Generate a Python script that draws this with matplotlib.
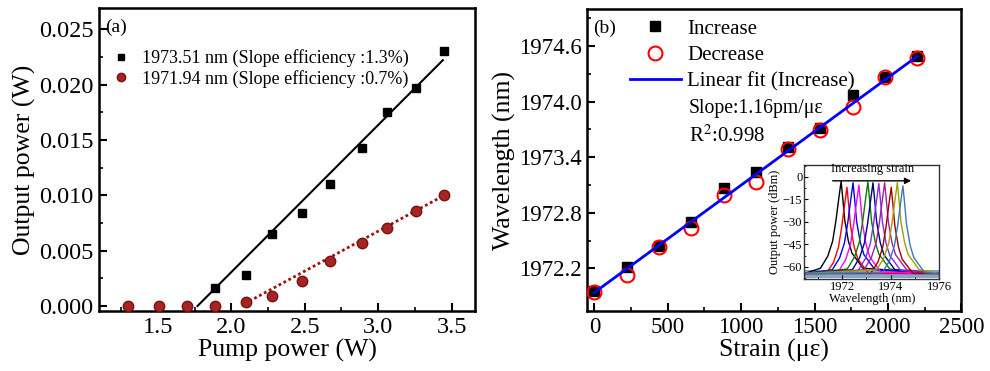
import numpy as np
import matplotlib
matplotlib.use("Agg")
import matplotlib.pyplot as plt
from matplotlib.ticker import MultipleLocator, AutoMinorLocator

plt.rcParams['font.family'] = ['Liberation Serif', 'DejaVu Serif']
plt.rcParams['mathtext.fontset'] = 'stix'

# ---------------- data (a) ----------------
pump_sq = [1.89, 2.10, 2.28, 2.48, 2.67, 2.89, 3.06, 3.26, 3.45]
out_sq = [0.0016, 0.0028, 0.0065, 0.0084, 0.0110, 0.0143, 0.0175, 0.0197, 0.0230]
pump_ci = [1.30, 1.51, 1.70, 1.89, 2.10, 2.28, 2.48, 2.67, 2.89, 3.06, 3.26, 3.45]
out_ci = [0.0, 0.0, 0.0, 0.0, 0.0004, 0.0009, 0.0023, 0.0041, 0.0057, 0.0070, 0.0086, 0.0100]
fit_sq_x = [1.77, 3.44]
fit_sq_y = [0.0, 0.0222]
fit_ci_x = [2.09, 3.45]
fit_ci_y = [0.0002, 0.0100]
label_sq = "1973.51 nm (Slope efficiency :1.3%)"
label_ci = "1971.94 nm (Slope efficiency :0.7%)"

# ---------------- data (b) ----------------
strain = [0, 220, 440, 660, 880, 1100, 1320, 1540, 1760, 1980, 2200]
wl_inc = [1971.96, 1972.21, 1972.44, 1972.70, 1973.07, 1973.24, 1973.51, 1973.72, 1974.07, 1974.27, 1974.49]
wl_dec = [1971.95, 1972.13, 1972.43, 1972.64, 1972.99, 1973.13, 1973.49, 1973.69, 1973.94, 1974.27, 1974.47]
fit_strain = [0, 2200]
fit_wl = [1971.94, 1974.49]

# inset spectra: peak centres (nm), peak levels (dBm), colours
peak_wl = [1971.96, 1972.20, 1972.45, 1972.69, 1973.06, 1973.27, 1973.51, 1973.75, 1974.02, 1974.27, 1974.50]
peak_db = [-3, -7, -4, -5.5, -3.5, -4, -4.5, -4, -7, -4, -6]
spec_colors = ['black', 'red', 'blue', 'magenta', 'green', 'navy', '#8A2BE2', '#A020A0',
               '#A00000', '#A0A000', '#3C78B4']
# common line shape (offset from peak in nm, level below peak in dB)
shape_dx = [-0.85, -0.55, -0.35, -0.22, -0.10, 0.0, 0.06, 0.15, 0.30, 0.45, 0.90]
shape_db = [-58, -50, -40, -27, -12, 0, -10, -26, -40, -48, -58]
floor_db = -64.5

fig = plt.figure(figsize=(9.9, 3.71), dpi=100)

# ================= panel (a) =================
ax1 = fig.add_axes([0.100, 0.1617, 0.380, 0.8165])
ax1.plot(fit_sq_x, fit_sq_y, color='black', lw=1.5, zorder=2)
ax1.plot(fit_ci_x, fit_ci_y, color='#A01010', lw=2.0, ls=(0, (1, 1)), zorder=2)
ax1.plot(pump_sq, out_sq, ls='none', marker='s', ms=6, color='black', label=label_sq, zorder=3)
ax1.plot(pump_ci, out_ci, ls='none', marker='o', ms=7.5, mfc='#A52424', mec='#7A1010',
         mew=1.0, label=label_ci, zorder=3)
ax1.set_xlim(1.1, 3.66)
ax1.set_ylim(-0.00045, 0.0269)
ax1.xaxis.set_minor_locator(MultipleLocator(0.25))
ax1.yaxis.set_minor_locator(MultipleLocator(0.0025))
ax1.set_xticks([1.5, 2.0, 2.5, 3.0, 3.5])
ax1.set_xticklabels(['1.5', '2.0', '2.5', '3.0', '3.5'])
ax1.set_yticks([0.0, 0.005, 0.010, 0.015, 0.020, 0.025])
ax1.set_yticklabels(['0.000', '0.005', '0.010', '0.015', '0.020', '0.025'])
ax1.set_xlabel('Pump power (W)', fontsize=18.5, labelpad=1)
ax1.set_ylabel('Output power (W)', fontsize=18.5, labelpad=2)
ax1.text(0.015, 0.935, '(a)', transform=ax1.transAxes, fontsize=14, va='center', ha='left')
leg1 = ax1.legend(loc='upper left', bbox_to_anchor=(0.0, 0.90), frameon=False, fontsize=13,
                  handletextpad=0.6, handlelength=1.2, borderaxespad=0.2, labelspacing=0.15,
                  markerscale=0.8)

# ================= panel (b) =================
ax2 = fig.add_axes([0.593, 0.1617, 0.378, 0.8140])
ax2.plot(strain, wl_inc, ls='none', marker='s', ms=7, color='black', label='Increase', zorder=3)
ax2.plot(strain, wl_dec, ls='none', marker='o', ms=10, mfc='none', mec='red', mew=1.5,
         label='Decrease', zorder=4)
ax2.plot(fit_strain, fit_wl, color='blue', lw=2.0, label='Linear fit (Increase)', zorder=5)
ax2.set_xlim(-50, 2500)
ax2.set_ylim(1971.74, 1975.0)
ax2.xaxis.set_major_locator(MultipleLocator(500))
ax2.xaxis.set_minor_locator(MultipleLocator(250))
ax2.set_yticks([1972.2, 1972.8, 1973.4, 1974.0, 1974.6])
ax2.set_yticklabels(['1972.2', '1972.8', '1973.4', '1974.0', '1974.6'])
ax2.yaxis.set_minor_locator(MultipleLocator(0.3))
ax2.set_xlabel('Strain (\u03bc\u03b5)', fontsize=18.5, labelpad=1)
ax2.set_ylabel('Wavelength (nm)', fontsize=18.5, labelpad=2)
ax2.text(0.015, 0.935, '(b)', transform=ax2.transAxes, fontsize=14, va='center', ha='left')
leg2 = ax2.legend(loc='upper left', bbox_to_anchor=(0.081, 1.008), frameon=False, fontsize=15,
                  handletextpad=0.3, handlelength=2.45, borderaxespad=0.2, labelspacing=0.33)
ax2.text(0.272, 0.672, 'Slope:1.16pm/\u03bc\u03b5', transform=ax2.transAxes, fontsize=14.2,
         va='center', ha='left')
ax2.text(0.272, 0.580, 'R$^{2}$:0.998', transform=ax2.transAxes, fontsize=15,
         va='center', ha='left')

ax1.tick_params(which='both', labelsize=17.5)
ax2.tick_params(which='both', labelsize=16.5)
for ax in (ax1, ax2):
    ax.tick_params(which='both', direction='in', top=False, right=False)
    ax.tick_params(which='major', length=6, width=1.5, pad=4)
    ax.tick_params(which='minor', length=3, width=1.2)
    for s in ax.spines.values():
        s.set_linewidth(1.8)

# ================= inset =================
axi = fig.add_axes([0.8125, 0.247, 0.1364, 0.308])
xlo, xhi = 1970.45, 1976.0
for c, h, col in zip(peak_wl, peak_db, spec_colors):
    xs = [xlo] + [c + d for d in shape_dx] + [xhi]
    ys = [floor_db] + [max(h + d, floor_db) for d in shape_db] + [floor_db]
    axi.plot(xs, ys, color=col, lw=1.0)
axi.axhspan(-67.5, -62.0, color='#3C78B4', alpha=0.65, lw=0, zorder=0)
axi.set_xlim(xlo, xhi)
axi.set_ylim(-68.4, 7.8)
axi.set_xticks([1972, 1974, 1976])
axi.set_yticks([0, -15, -30, -45, -60])
axi.xaxis.set_minor_locator(MultipleLocator(1))
axi.yaxis.set_minor_locator(MultipleLocator(7.5))
axi.tick_params(which='both', direction='in', labelsize=9, pad=1.5)
axi.tick_params(which='major', length=3, width=0.8)
axi.tick_params(which='minor', length=1.5, width=0.6)
for s in axi.spines.values():
    s.set_linewidth(1.0)
    s.set_color('#333333')
axi.set_xlabel('Wavelength (nm)', fontsize=9, labelpad=0)
axi.set_ylabel('Output power (dBm)', fontsize=9, labelpad=1)
axi.annotate('', xy=(1974.95, -2.7), xytext=(1971.5, -2.7),
             arrowprops=dict(arrowstyle='-|>', color='black', lw=1.0, mutation_scale=9))
axi.text(1973.25, 1.0, 'Increasing strain', fontsize=9, ha='center', va='bottom')

fig.savefig('out.png', dpi=100)
